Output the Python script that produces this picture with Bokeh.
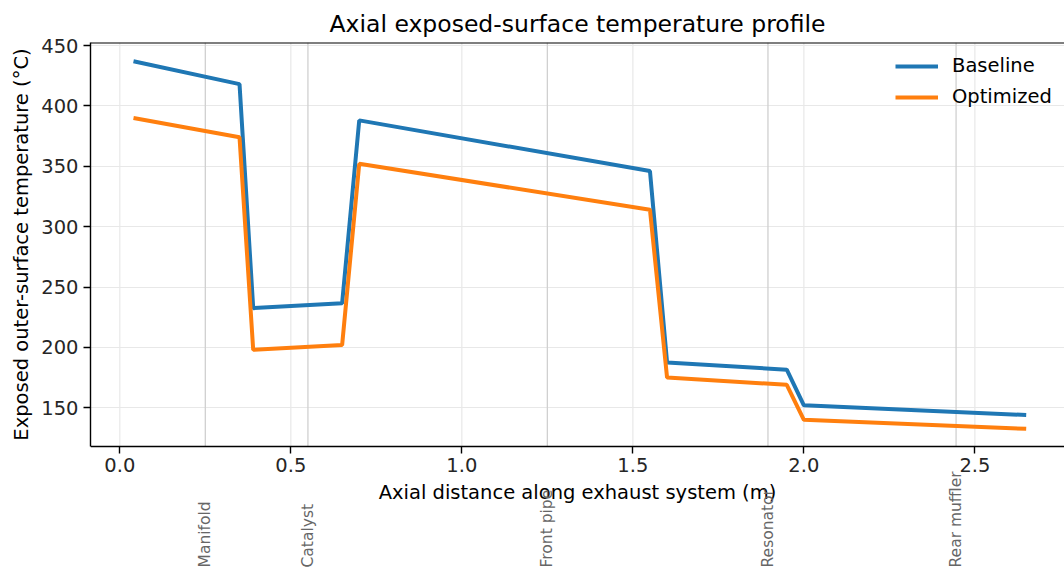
import math
from bokeh.plotting import figure
from bokeh.models import Range1d, Span, Label, Legend, LegendItem, FixedTicker
from bokeh.embed import file_html
from bokeh.resources import INLINE

# ---- data ----
distance = [0.04, 0.35, 0.39, 0.65, 0.70, 1.55, 1.60, 1.95, 2.00, 2.65]
baseline = [437, 418, 232.5, 236.5, 388, 346, 187.5, 181.5, 152, 144]
optimized = [390, 374, 198, 202, 352, 314, 175, 169, 140, 132.5]
component_names = ["Manifold", "Catalyst", "Front pipe", "Resonator", "Rear muffler"]
component_pos = [0.25, 0.55, 1.25, 1.895, 2.445]
x_ticks = [0.0, 0.5, 1.0, 1.5, 2.0, 2.5]
y_ticks = [150, 200, 250, 300, 350, 400, 450]

FONT = "DejaVu Sans"
Y0, Y1 = 117.9, 452.5      # visible axis extent
YB = 15.2                  # frame extends below axis to hold component labels
YLAB = 17.7                # start of component labels

p = figure(width=1064, height=570, output_backend="svg", toolbar_location=None,
           x_range=Range1d(-0.0857, 2.762), y_range=Range1d(YB, Y1),
           min_border_left=90, min_border_right=0, min_border_top=42, min_border_bottom=0)
p.outline_line_color = None
p.background_fill_color = "white"

p.title.text = "Axial exposed-surface temperature profile"
p.title.align = "center"
p.title.text_font = FONT
p.title.text_font_size = "23.5px"
p.title.text_font_style = "normal"
p.title.text_color = "#000000"
p.title.standoff = 10

for ax in (p.xaxis, p.yaxis):
    ax.axis_line_color = "#000000"
    ax.axis_line_width = 1.4
    ax.major_tick_line_color = "#000000"
    ax.major_tick_line_width = 1.4
    ax.major_tick_out = 7
    ax.major_tick_in = 0
    ax.minor_tick_line_color = None
    ax.major_label_text_font = FONT
    ax.major_label_text_font_size = "19.5px"
    ax.major_label_text_color = "#262626"
    ax.axis_label_text_font = FONT
    ax.axis_label_text_font_size = "19.5px"
    ax.axis_label_text_font_style = "normal"
    ax.axis_label_text_color = "#000000"

p.xaxis.ticker = FixedTicker(ticks=x_ticks)
p.yaxis.ticker = FixedTicker(ticks=y_ticks)
p.xaxis.major_label_overrides = {t: f"{t:.1f}" for t in x_ticks}
p.xaxis.axis_label = "Axial distance along exhaust system (m)"
# leading no-break spaces shift the label so it centres on the plotted extent
p.yaxis.axis_label = "\u00a0" * 20 + "Exposed outer-surface temperature (°C)"
p.xaxis.major_label_standoff = 5
p.yaxis.major_label_standoff = 5
p.xaxis.axis_label_standoff = 5
p.yaxis.axis_label_standoff = 5
p.xaxis.fixed_location = Y0
p.yaxis.bounds = (Y0, Y1)

p.xgrid.visible = False
p.ygrid.grid_line_color = "#e8e8e8"
p.ygrid.grid_line_width = 1.2

# vertical grid lines at major ticks, limited to the plotted extent
p.segment(x0=x_ticks, y0=Y0, x1=x_ticks, y1=Y1, line_color="#e8e8e8", line_width=1.2)
# component marker lines
p.segment(x0=component_pos, y0=Y0, x1=component_pos, y1=Y1, line_color="#d0d0d0", line_width=1.3)

# top spine
p.add_layout(Span(location=Y1, dimension="width", line_color="#000000", line_width=2.0))

# component labels
for name, pos in zip(component_names, component_pos):
    p.add_layout(Label(x=pos, y=YLAB, x_units="data", y_units="data", text=name,
                       angle=math.pi / 2, text_align="left", text_baseline="middle",
                       text_font=FONT, text_font_size="15.5px", text_color="#666666"))

r1 = p.line(distance, baseline, line_color="#1f77b4", line_width=4)
r2 = p.line(distance, optimized, line_color="#ff7f0e", line_width=4)

legend = Legend(items=[LegendItem(label="Baseline", renderers=[r1]),
                       LegendItem(label="Optimized", renderers=[r2])],
                location=(805, 462), padding=0, margin=0, spacing=8,
                glyph_width=43, glyph_height=20, label_height=20, label_standoff=14,
                label_text_font=FONT, label_text_font_size="19.5px", label_text_color="#000000",
                background_fill_alpha=0, border_line_alpha=0)
p.add_layout(legend)

open("out.html", "w").write(file_html(p, INLINE))
